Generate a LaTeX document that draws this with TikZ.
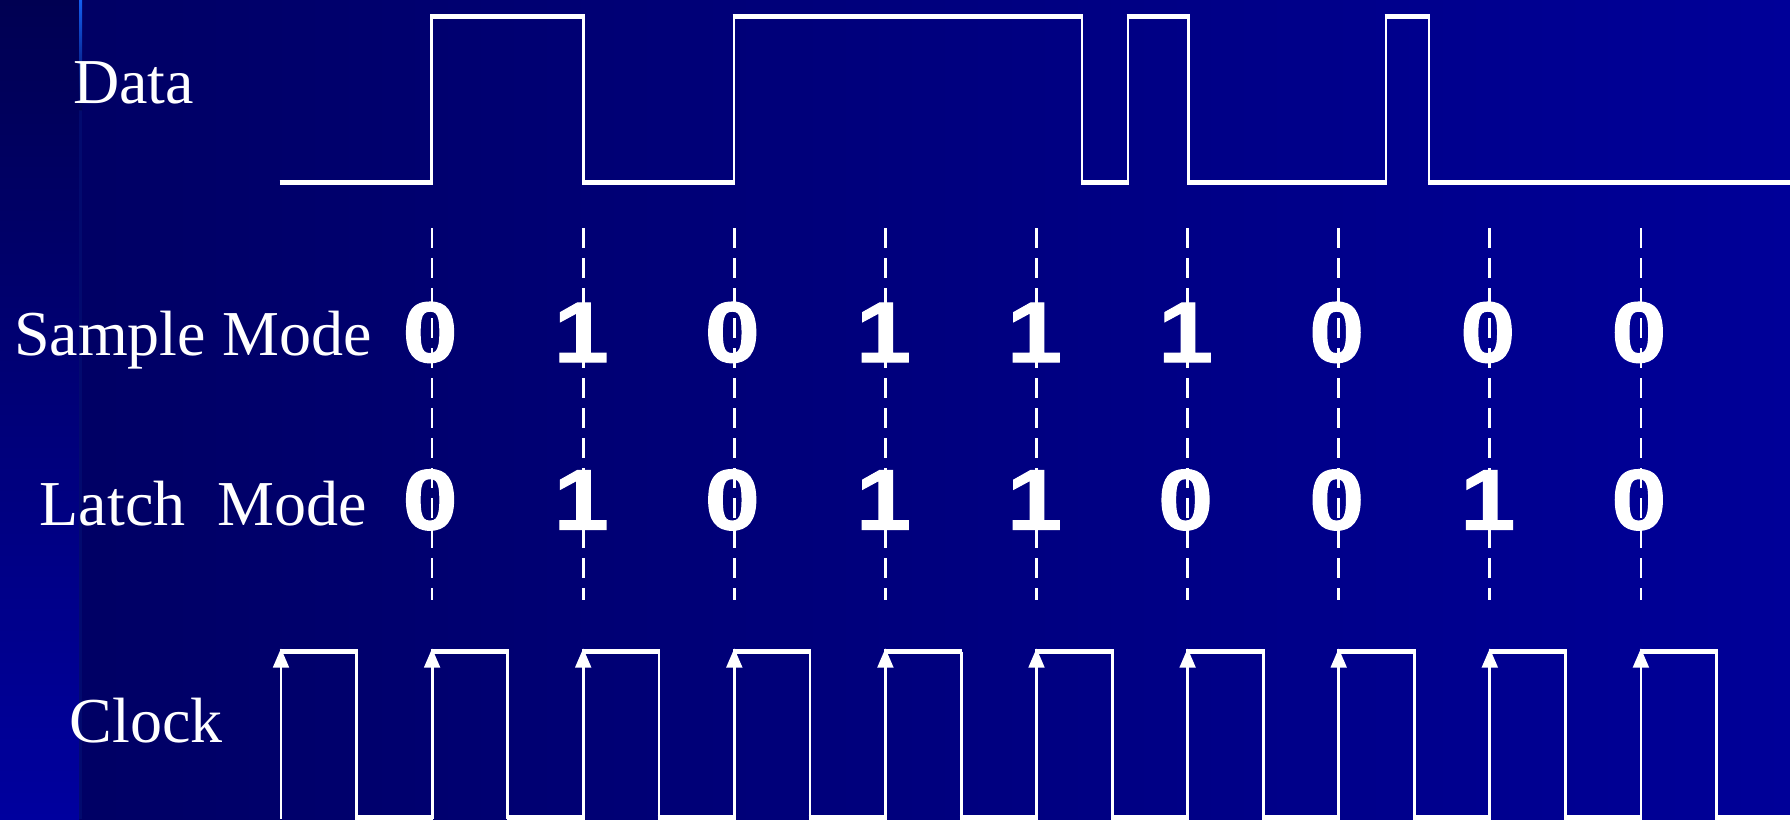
\documentclass[tikz,border=0pt]{standalone}
\usepackage{fontspec}
\setmainfont{Liberation Serif}
\newfontfamily\digitfont[BoldFeatures={FakeBold=1.2}]{Liberation Sans}
\definecolor{bgL}{RGB}{0,0,98}
\definecolor{bgR}{RGB}{0,0,152}
\definecolor{stripT}{RGB}{0,0,82}
\definecolor{stripB}{RGB}{0,0,158}
\definecolor{edgeblue}{RGB}{20,95,240}
\newcommand\bitglyph[1]{\scalebox{1.15}[1]{#1}}
\begin{document}
\begin{tikzpicture}[x=1pt,y=-1pt,
  lbl/.style={font=\fontsize{64}{70}\selectfont, text=white, anchor=base west, inner sep=0pt},
  bit/.style={font=\digitfont\bfseries\fontsize{86}{90}\selectfont, text=white, anchor=base, inner sep=0pt},
  vert/.style={draw=white, line width=2.8pt},
  horiz/.style={draw=white, line width=5pt},
  dashline/.style={draw=white, line width=2.7pt, dash pattern=on 20pt off 10pt},
  tiptri/.style={fill=white}]
\useasboundingbox (0,0) rectangle (1790,819);
% background
\shade[left color=bgL, right color=bgR] (0,0) rectangle (1790,819);
\shade[top color=stripT, bottom color=stripB] (0,0) rectangle (79,819);
\shade[top color=edgeblue, bottom color=stripT] (79,0) rectangle (82,110);
\fill[stripT!70!edgeblue, opacity=0.35] (79,110) rectangle (82,819);

% labels
\node[lbl] (data) at (73,103) {Data};
\node[lbl] (sample) at (14,355) {Sample Mode};
\node[lbl] (latch) at (39.5,525.5) {Latch\ \ Mode};
\node[lbl] (clock) at (69.5,742.5) {Clock};

% dashed sampling lines
\foreach \i in {1,...,9}{
  \pgfmathsetmacro{\xx}{281+151.1*\i}
  \draw[dashline] (\xx,228) -- (\xx,600);
}

% digits
\foreach \i/\s/\l in {1/0/0,2/1/1,3/0/0,4/1/1,5/1/1,6/1/0,7/0/0,8/0/1,9/0/0}{
  \pgfmathsetmacro{\xx}{281+151.1*\i-2}
  \node[bit] (s\i) at (\xx,362) {\bitglyph{\s}};
  \node[bit] (l\i) at (\xx,529.5) {\bitglyph{\l}};
}

% data waveform
\draw[vert] (281,182.5) -| (431.5,16) -| (583.4,182.5) -| (734,16) -| (1082,182.5)
  -| (1128,16) -| (1188.4,182.5) -| (1386,16) -| (1429,182.5) -- (1790,182.5);
\foreach \a/\b in {431.5/583.4,734/1082,1128/1188.4,1386/1429}
  \draw[horiz] (\a-1.3,16) -- (\b+1.3,16);
\foreach \a/\b in {281/431.5,583.4/734,1082/1128,1188.4/1386,1429/1790}
  \draw[horiz] (\a-1.3,182.5) -- (\b+1.3,182.5);

% clock waveform
\foreach \k in {0,...,9}{
  \pgfmathsetmacro{\xa}{281+151.1*\k}
  \pgfmathsetmacro{\xb}{\xa+75.7}
  \pgfmathsetmacro{\xc}{min(\xa+151.1,1790)}
  \draw[vert] (\xa,819) -- (\xa,651.5);
  \draw[vert] (\xb,651.5) -- (\xb,819);
  \draw[horiz] (\xa-1.3,651.5) -- (\xb+1.3,651.5);
  \draw[horiz] (\xb-1.3,817) -- (\xc+1.3,817);
  \fill[tiptri] (\xa,648.5) -- (\xa+8.2,667.5) -- (\xa-8.2,667.5) -- cycle;
}
\end{tikzpicture}
\end{document}
